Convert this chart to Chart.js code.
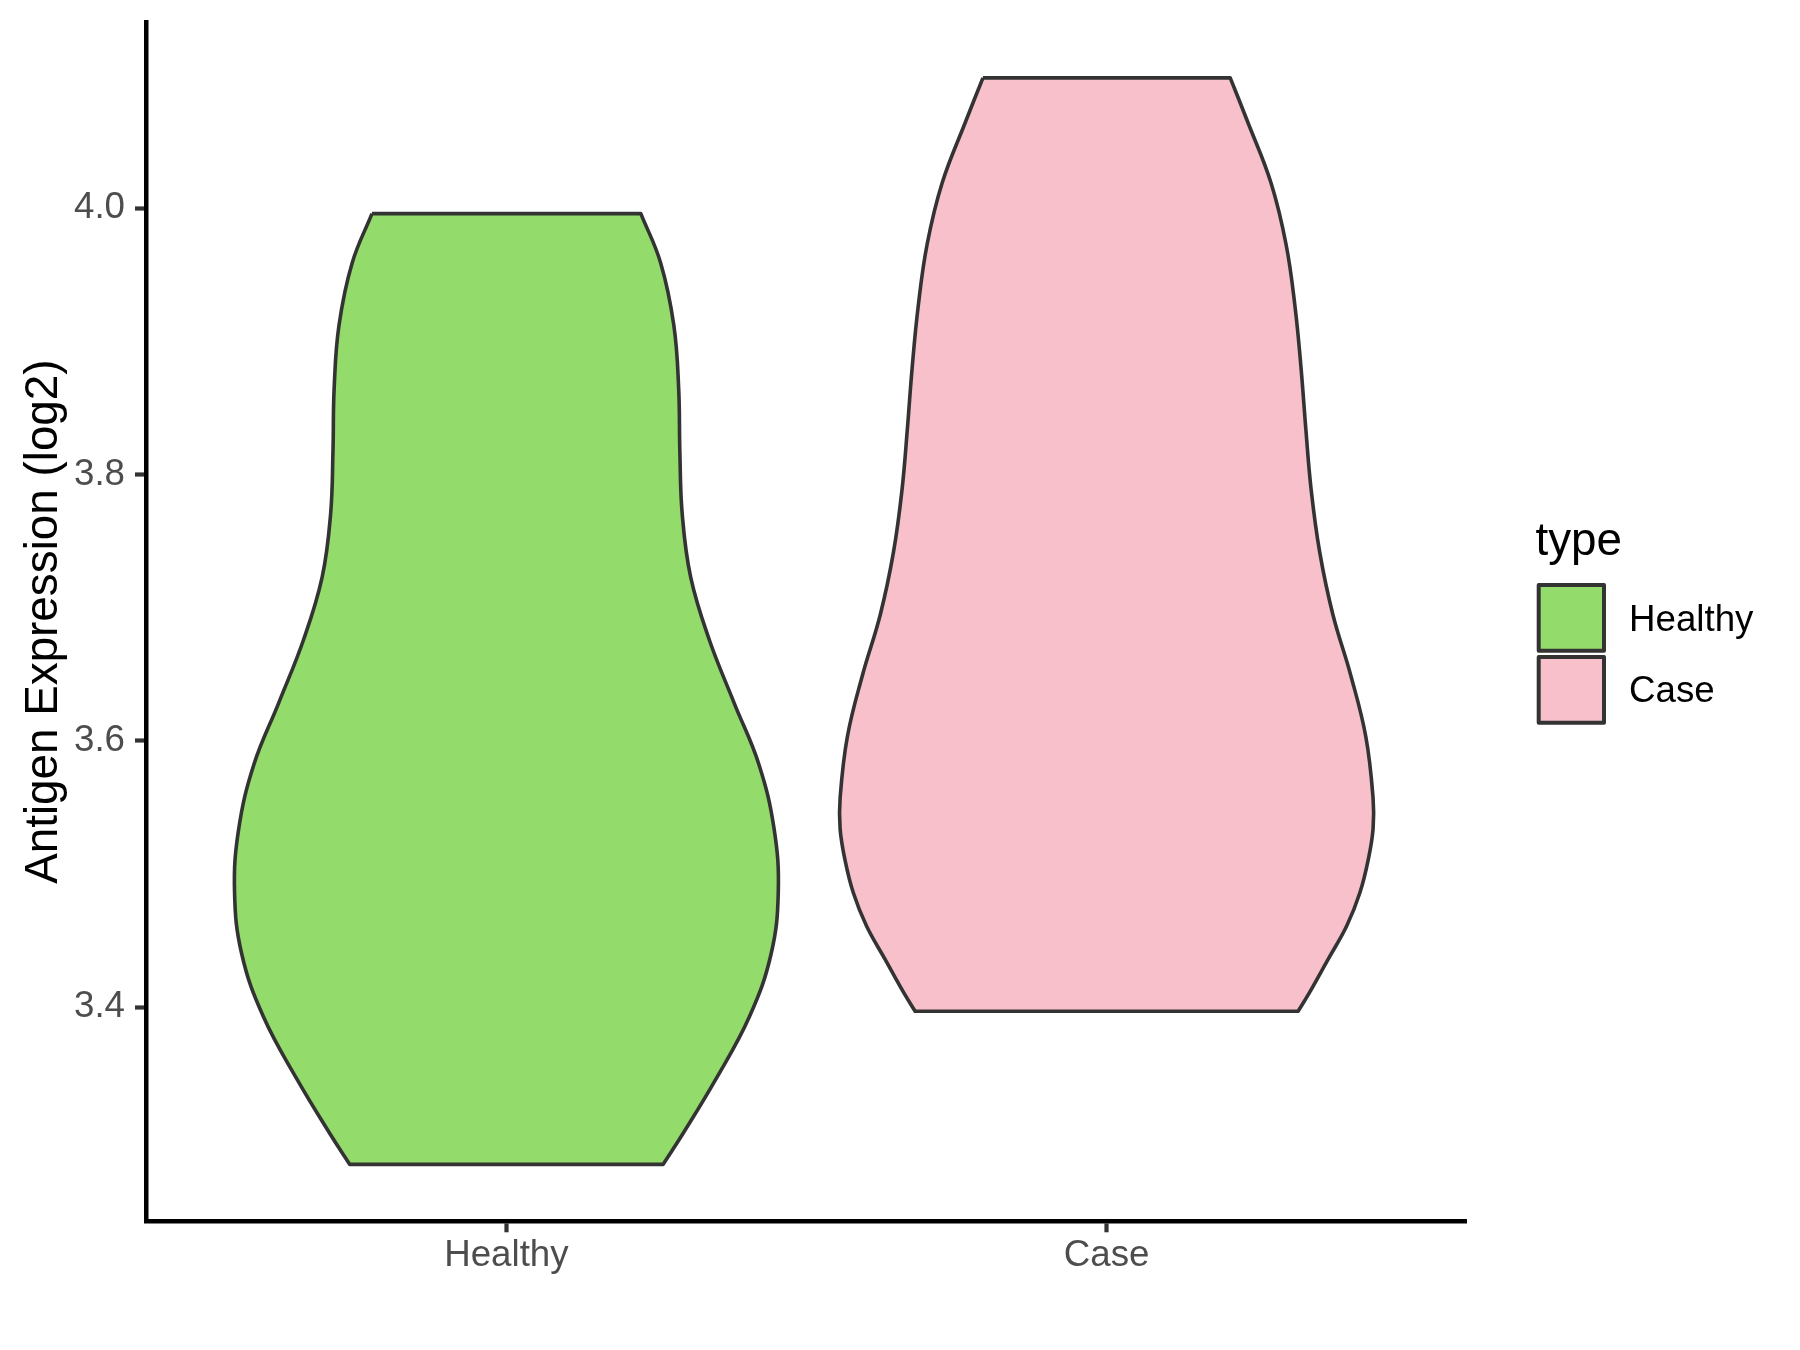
<!DOCTYPE html>
<html>
<head>
<meta charset="utf-8">
<script src="https://cdn.jsdelivr.net/npm/chart.js@4/dist/chart.umd.min.js"></script>
<style>
  html, body { margin: 0; padding: 0; background: #ffffff; }
  #wrap { width: 1800px; height: 1350px; }
</style>
</head>
<body>
<div id="wrap"><canvas id="c" width="1800" height="1350"></canvas></div>
<script>
// ---- data ----
const categories = ['Healthy', 'Case'];
const fillColors = ['#93DB6B', '#F7C0CB'];
const yTicks = [3.4, 3.6, 3.8, 4.0];
const yTitle = 'Antigen Expression (log2)';
const legendTitle = 'type';

// violin outlines: expression value (top -> bottom) and half width (in category units)
const healthyY  = [3.996, 3.959, 3.912, 3.865, 3.817, 3.770, 3.723, 3.676, 3.629, 3.582, 3.534, 3.487, 3.440, 3.393, 3.346, 3.305, 3.282];
const healthyHW = [0.224, 0.257, 0.279, 0.287, 0.289, 0.293, 0.307, 0.338, 0.379, 0.421, 0.446, 0.453, 0.441, 0.405, 0.349, 0.294, 0.261];
const caseY  = [4.098, 4.065, 4.019, 3.973, 3.926, 3.880, 3.834, 3.788, 3.742, 3.695, 3.649, 3.603, 3.557, 3.534, 3.511, 3.486, 3.461, 3.436, 3.411, 3.397];
const caseHW = [0.206, 0.235, 0.274, 0.299, 0.314, 0.324, 0.332, 0.341, 0.355, 0.377, 0.407, 0.432, 0.444, 0.444, 0.436, 0.422, 0.400, 0.369, 0.338, 0.319];

// closed outline: top-left, down the left side, bottom, up the right side, back to top-left
function outline(center, ys, hws) {
  const n = ys.length;
  const pts = [];
  pts.push({x: center - hws[0], y: ys[0]});
  for (let i = 1; i < n - 1; i++) pts.push({x: center - hws[i], y: ys[i]});
  pts.push({x: center - hws[n - 1], y: ys[n - 1]});
  pts.push({x: center - hws[n - 1], y: ys[n - 1]});
  pts.push({x: center + hws[n - 1], y: ys[n - 1]});
  pts.push({x: center + hws[n - 1], y: ys[n - 1]});
  for (let i = n - 2; i >= 1; i--) pts.push({x: center + hws[i], y: ys[i]});
  pts.push({x: center + hws[0], y: ys[0]});
  pts.push({x: center + hws[0], y: ys[0]});
  pts.push({x: center - hws[0], y: ys[0]});
  return pts;
}

const FONT = "'Liberation Sans', Arial, Helvetica, sans-serif";

const legendPlugin = {
  id: 'ggLegend',
  afterDraw(chart) {
    const ctx = chart.ctx;
    ctx.save();
    ctx.fillStyle = '#000000';
    ctx.font = '45.8px ' + FONT;
    ctx.textAlign = 'left';
    ctx.textBaseline = 'alphabetic';
    ctx.fillText(legendTitle, 1535.5, 555);
    const keyTop = [585, 657];
    const baselines = [630.7, 701.7];
    chart.data.datasets.forEach((ds, i) => {
      ctx.fillStyle = ds.backgroundColor;
      ctx.fillRect(1538.7, keyTop[i], 65.3, 65.7);
      ctx.strokeStyle = '#333333';
      ctx.lineWidth = 4;
      ctx.lineJoin = 'round';
      ctx.strokeRect(1538.7, keyTop[i], 65.3, 65.7);
      ctx.fillStyle = '#000000';
      ctx.font = '36.7px ' + FONT;
      ctx.fillText(ds.label, 1629, baselines[i]);
    });
    ctx.restore();
  }
};

const datasets = [
  {label: categories[0], data: outline(1, healthyY, healthyHW), backgroundColor: fillColors[0]},
  {label: categories[1], data: outline(2, caseY, caseHW), backgroundColor: fillColors[1]}
].map(d => Object.assign(d, {
  borderColor: '#333333',
  borderWidth: 3.6,
  borderJoinStyle: 'round',
  fill: 'shape',
  tension: 0.4,
  pointRadius: 0,
  pointHoverRadius: 0,
  clip: false
}));

function noPad(ax) {
  ax.paddingTop = 0; ax.paddingBottom = 0; ax.paddingLeft = 0; ax.paddingRight = 0;
}

new Chart(document.getElementById('c'), {
  type: 'line',
  data: {datasets},
  plugins: [legendPlugin],
  options: {
    responsive: false,
    animation: false,
    events: [],
    layout: {padding: {top: 22.3, right: 333.3, bottom: 0, left: 0}},
    plugins: {legend: {display: false}, tooltip: {enabled: false}, title: {display: false}},
    scales: {
      x: {
        type: 'linear',
        min: 0.4,
        max: 2.6,
        afterBuildTicks: ax => { ax.ticks = categories.map((c, i) => ({value: i + 1})); },
        afterFit: ax => { ax.height = 129; noPad(ax); },
        ticks: {
          callback: v => categories[Math.round(v) - 1],
          font: {family: FONT, size: 36.7},
          color: '#4D4D4D',
          padding: 2,
          maxRotation: 0,
          autoSkip: false
        },
        grid: {drawOnChartArea: false, drawTicks: true, tickLength: 11.3, tickColor: '#333333', tickWidth: 4.2},
        border: {display: true, color: '#000000', width: 4.5}
      },
      y: {
        type: 'linear',
        min: 3.2395,
        max: 4.1397,
        afterBuildTicks: ax => { ax.ticks = yTicks.map(v => ({value: v})); },
        afterFit: ax => { ax.width = 146.3; noPad(ax); },
        ticks: {
          callback: v => v.toFixed(1),
          font: {family: FONT, size: 36.7},
          color: '#4D4D4D',
          padding: 10
        },
        title: {
          display: true,
          text: yTitle,
          font: {family: FONT, size: 45.8},
          color: '#000000',
          padding: {top: 17, bottom: 0}
        },
        grid: {drawOnChartArea: false, drawTicks: true, tickLength: 11.3, tickColor: '#333333', tickWidth: 4.2},
        border: {display: true, color: '#000000', width: 4.5}
      }
    }
  }
});
</script>
</body>
</html>
